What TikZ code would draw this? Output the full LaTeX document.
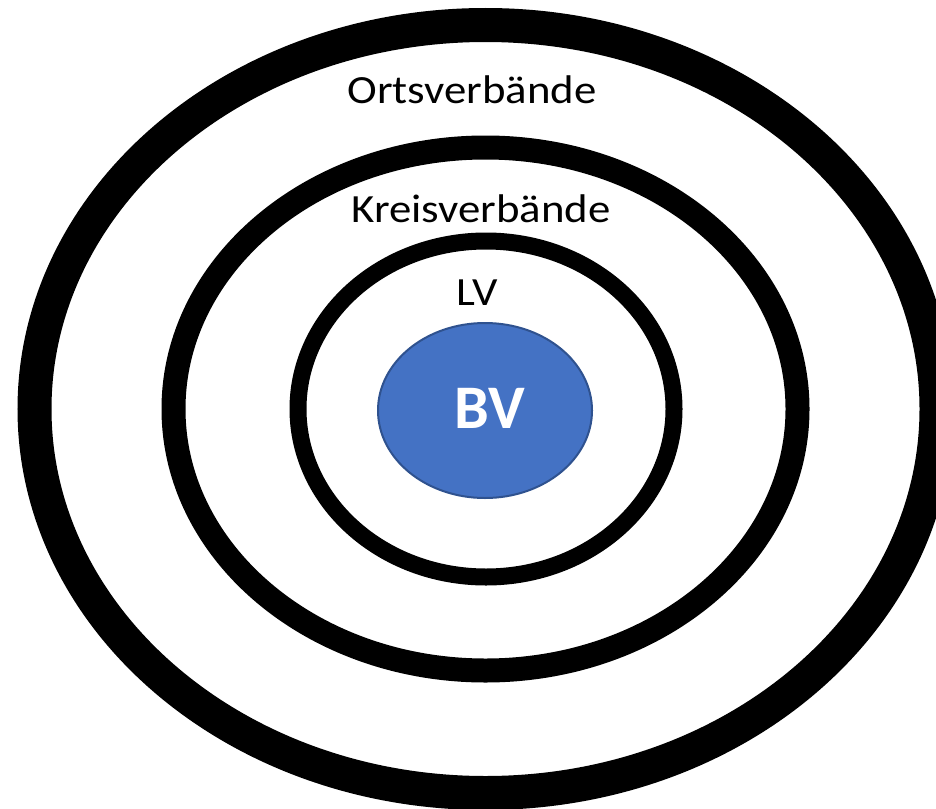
\documentclass[tikz,border=0pt]{standalone}
\usepackage{fontspec}
\setmainfont{Carlito}
\newfontfamily\ringfont[FakeStretch=1.12]{Carlito}
\definecolor{bvfill}{HTML}{4472C4}
\definecolor{bvdraw}{HTML}{2F528F}
\tikzset{
  ringlabel/.style={anchor=base, inner sep=0pt, font=\ringfont\fontsize{40}{44}\selectfont, text=black},
  bvlabel/.style={anchor=base, inner sep=0pt, font=\fontsize{62}{70}\selectfont\bfseries, text=white}
}
\begin{document}
\begin{tikzpicture}[x=1pt,y=-1pt]
\useasboundingbox (0,0) rectangle (936,808);
\fill[white] (0,0) rectangle (936,808);
\coordinate (c) at (485.5,409);
\draw[line width=34pt] (c) ellipse [x radius=451, y radius=384];
\draw[line width=24pt] (c) ellipse [x radius=312, y radius=261.5];
\draw[line width=17pt] (486,409) ellipse [x radius=188, y radius=168];
\draw[line width=2pt, draw=bvdraw, fill=bvfill] (485,410.5) ellipse [x radius=107, y radius=87.5];
\node[ringlabel] (orts) at (472,103) {Ortsverbände};
\node[ringlabel] (kreis) at (481,222) {Kreisverbände};
\node[ringlabel] (lv) at (477.5,305) {LV};
\node[bvlabel] (bv) at (490,428) {BV};
\end{tikzpicture}
\end{document}
